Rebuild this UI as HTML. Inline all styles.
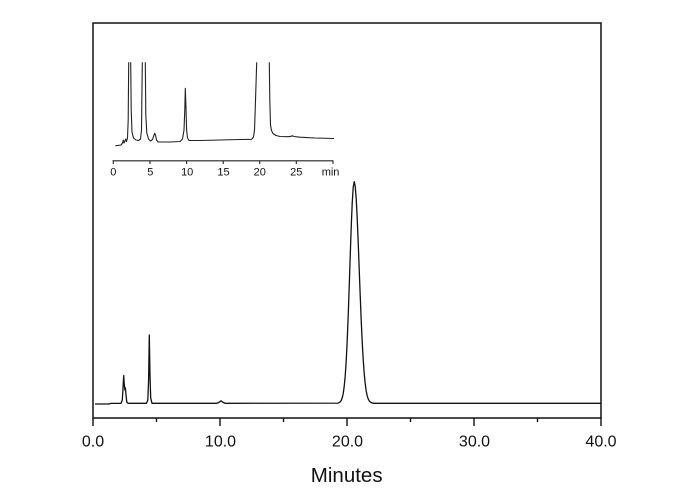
<!DOCTYPE html>
<html>
<head>
<meta charset="utf-8">
<style>
html,body{margin:0;padding:0;background:#fff;}
svg{display:block;}
text{font-family:"Liberation Sans",Arial,sans-serif;fill:#111;}
</style>
</head>
<body>
<svg width="690" height="490" viewBox="0 0 690 490" xmlns="http://www.w3.org/2000/svg">
<rect x="0" y="0" width="690" height="490" fill="#fff"/>
<!-- frame -->
<rect x="93" y="23" width="508" height="395" fill="none" stroke="#111" stroke-width="1.5"/>
<!-- main ticks -->
<g stroke="#111" stroke-width="1.4">
<line x1="93" y1="418" x2="93" y2="426"/>
<line x1="220" y1="418" x2="220" y2="426"/>
<line x1="347" y1="418" x2="347" y2="426"/>
<line x1="474" y1="418" x2="474" y2="426"/>
<line x1="601" y1="418" x2="601" y2="426"/>
<line x1="156.5" y1="418" x2="156.5" y2="422"/>
<line x1="283.5" y1="418" x2="283.5" y2="422"/>
<line x1="410.5" y1="418" x2="410.5" y2="422"/>
<line x1="537.5" y1="418" x2="537.5" y2="422"/>
</g>
<g font-size="16" text-anchor="middle">
<text x="93" y="446.7">0.0</text>
<text x="220.5" y="446.7">10.0</text>
<text x="347.5" y="446.7">20.0</text>
<text x="474.5" y="446.7">30.0</text>
<text x="601" y="446.7">40.0</text>
</g>
<text x="346.7" y="482" font-size="20.5" text-anchor="middle">Minutes</text>

<!-- main chromatogram -->
<path fill="none" stroke="#111" stroke-width="1.3" stroke-linejoin="round" d="
M95,404 L109,404 L111,403.4 L121,403.3 L122.3,400 L123.2,385 L123.7,375.5 L124.3,385 L124.9,390 L125.4,388 L126,395 L126.8,402 L128,403.3
L146.5,403.3 L147.8,400 L148.6,380 L149.3,335 L150,375 L150.7,398 L152,403.3
L217,403.3 L219.5,402 L221,400.8 L222.5,402 L225,403.3
L338.2,403.1 L340.2,401.9 L341.2,400.5 L342.2,397.9 L343.2,393.6 L344.2,386.5 L345.2,376.0 L346.2,360.9 L347.2,340.8 L348.2,315.8 L349.2,287.1 L350.2,256.7 L351.2,227.7 L352.2,203.4 L353.2,187.3 L354.2,181.7
L355.2,186.1 L356.2,198.7 L357.2,218.2 L358.2,242.4 L359.2,268.9 L360.2,295.4 L361.2,320.1 L362.2,341.7 L363.2,359.4 L364.2,373.3 L365.2,383.6 L366.2,390.9 L367.2,395.8 L368.2,398.9 L369.2,400.8 L370.2,402.0 L372.2,403.0 L374,403.3 L601,403.3"/>

<!-- inset axis -->
<g stroke="#222" stroke-width="1.1">
<line x1="112.5" y1="160.8" x2="333.5" y2="160.8"/>
<line x1="113.3" y1="160.8" x2="113.3" y2="164"/>
<line x1="150" y1="160.8" x2="150" y2="164"/>
<line x1="186.6" y1="160.8" x2="186.6" y2="164"/>
<line x1="223.2" y1="160.8" x2="223.2" y2="164"/>
<line x1="259.7" y1="160.8" x2="259.7" y2="164"/>
<line x1="296.3" y1="160.8" x2="296.3" y2="164"/>
<line x1="333" y1="160.8" x2="333" y2="164"/>
</g>
<g font-size="11" text-anchor="middle">
<text x="113.3" y="175.3">0</text>
<text x="150.3" y="175.3">5</text>
<text x="187.2" y="175.3">10</text>
<text x="223.5" y="175.3">15</text>
<text x="259.8" y="175.3">20</text>
<text x="296.3" y="175.3">25</text>
</g>
<text x="321.7" y="175.3" font-size="11">min</text>

<!-- inset chromatogram -->
<path fill="none" stroke="#222" stroke-width="1.1" stroke-linejoin="round" d="
M115.3,145.8 L121,145 L122.5,143 L123.3,140 L124,143 L125,141 L125.7,139 L126.5,141.5 L127.5,138 L128.2,120 L128.7,62.3
M130.7,62.3 L131.2,110 L132,132 L133.5,138 L136,140 L138.5,140.5 L140.5,139 L141.5,130 L142.3,62.3
M145.3,62.3 L145.8,115 L146.8,133 L148.5,139 L150.5,141 L152.5,139.5 L154,135 L154.7,133.3 L155.5,135 L156.5,140 L158,142 L170,142 L180,141.5 L182.5,139 L184,130 L184.8,110 L185.3,88.3 L185.9,105 L186.6,130 L187.5,138 L189,140.5 L200,140.5 L220,140 L240,139.5 L251.7,139.3 L253.5,137 L254.5,130 L255.2,110 L256.7,62.3
M269.3,62.3 L269.8,100 L270.5,125 L271.5,130.5 L273,133.5 L276,135.5 L280,136.5 L288,136.7 L291,136.3 L292.3,135.8 L294,136.5 L300,137.2 L315,138 L334,138.5"/>
</svg>
</body>
</html>
